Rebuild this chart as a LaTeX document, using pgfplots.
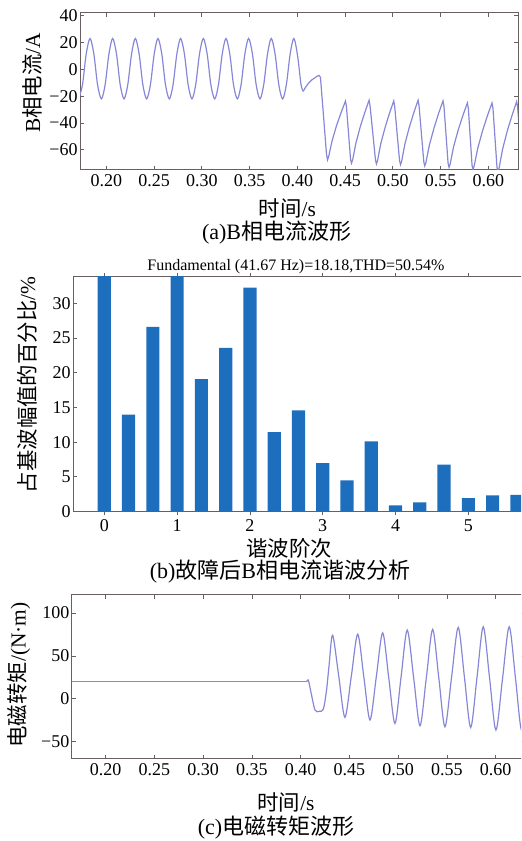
\documentclass[border=0pt]{standalone}
\usepackage{fontspec}
\setmainfont{Liberation Serif}
\newfontfamily\cjk{Noto Sans CJK SC}
\usepackage{pgfplots}
\pgfplotsset{compat=1.18}
\definecolor{wave}{RGB}{135,135,215}
\definecolor{axc}{RGB}{105,95,95}
\definecolor{barc}{RGB}{30,110,190}
\pgfplotsset{myax/.style={scale only axis, anchor=south west,
  axis line style={axc, line width=0.5pt},
  every tick/.style={axc, line width=0.4pt}, major tick length=2pt,
  tick label style={font=\fontsize{9}{10}\selectfont},
  /pgf/number format/assume math mode=true,
  yticklabel style={inner sep=1pt}, xticklabel style={inner sep=2pt}}}
\begin{document}
\begin{tikzpicture}
\useasboundingbox (0pt,0pt) rectangle (260.5pt,420.5pt);
\clip (0pt,0pt) rectangle (260.5pt,420.5pt);
% ---------------- (a)
\begin{axis}[myax, at={(40pt,335.5pt)}, width=219pt, height=78.5pt,
  xmin=0.1725, xmax=0.631, ymin=-75, ymax=42,
  xtick={0.2,0.25,0.3,0.35,0.4,0.45,0.5,0.55,0.6},
  xticklabels={0.20,0.25,0.30,0.35,0.40,0.45,0.50,0.55,0.60},
  ytick={-60,-40,-20,0,20,40}, yticklabels={−60,−40,−20,0,20,40}]
\addplot[wave, line width=0.6pt, smooth] coordinates {
(0.1711,-22) (0.1751,-11.5) (0.1790,11.5)
(0.1830,23) (0.1870,11.5) (0.1909,-11.5) (0.1949,-22) (0.1988,-11.5) (0.2028,11.5)
(0.2067,23) (0.2107,11.5) (0.2146,-11.5) (0.2186,-22) (0.2225,-11.5) (0.2265,11.5)
(0.2304,23) (0.2344,11.5) (0.2383,-11.5) (0.2423,-22) (0.2462,-11.5) (0.2502,11.5)
(0.2541,23) (0.2581,11.5) (0.2620,-11.5) (0.2660,-22) (0.2699,-11.5) (0.2739,11.5)
(0.2778,23) (0.2818,11.5) (0.2857,-11.5) (0.2897,-22) (0.2936,-11.5) (0.2976,11.5)
(0.3016,23) (0.3056,11.5) (0.3095,-11.5) (0.3135,-22) (0.3174,-11.5) (0.3214,11.5)
(0.3253,23) (0.3293,11.5) (0.3332,-11.5) (0.3372,-22) (0.3411,-11.5) (0.3451,11.5)
(0.3490,23) (0.3530,11.5) (0.3569,-11.5) (0.3609,-22) (0.3648,-11.5) (0.3688,11.5)
(0.3727,23) (0.3767,11.5) (0.3806,-11.5) (0.3846,-22) (0.3885,-11.5) (0.3925,11.5)
(0.3964,23) (0.4003,10) (0.4038,-11) (0.4061,-16.4)};
\addplot[wave, line width=0.6pt] coordinates {
(0.4061,-16.4) (0.4085,-13.5) (0.4115,-10.5) (0.4149,-8) (0.4180,-6.5) (0.4210,-5) (0.4228,-4.5) (0.4242,-6) (0.4280,-40) (0.4305,-63) (0.4316,-67.5)
(0.4328,-65) (0.4363,-53.5) (0.4410,-42) (0.4457,-32.4) (0.4504,-23.6)
(0.4514,-27.6) (0.4557,-67) (0.4567,-70)
(0.4579,-67.5) (0.4613,-55) (0.4659,-42.7) (0.4705,-32.4) (0.4751,-23)
(0.4761,-27) (0.4818,-67.5) (0.4828,-70.5)
(0.4840,-68) (0.4873,-55.5) (0.4919,-43.2) (0.4964,-32.9) (0.5009,-23.5)
(0.5019,-27.5) (0.5070,-68) (0.5080,-71)
(0.5092,-68.5) (0.5126,-55.6) (0.5172,-43.2) (0.5218,-32.6) (0.5264,-23)
(0.5274,-27) (0.5324,-69) (0.5334,-72)
(0.5346,-69.5) (0.5382,-56.5) (0.5430,-43.9) (0.5477,-33.2) (0.5525,-23.5)
(0.5535,-27.5) (0.5578,-70) (0.5588,-73)
(0.5600,-70.5) (0.5636,-57.6) (0.5684,-45.2) (0.5732,-34.6) (0.5780,-25)
(0.5790,-29) (0.5829,-71.5) (0.5839,-74.5)
(0.5851,-72) (0.5889,-58.7) (0.5939,-45.8) (0.5988,-34.9) (0.6038,-25)
(0.6048,-29) (0.6090,-73) (0.6100,-76)
(0.6112,-73.5) (0.6149,-59.4) (0.6198,-45.8) (0.6247,-34.4) (0.6296,-24)
(0.6306,-28) (0.6350,-70)};
\end{axis}
% ---------------- (b)
\begin{axis}[myax, at={(36.5pt,164.75pt)}, width=226.8pt, height=117.4pt,
  xmin=-0.43, xmax=5.8, ymin=0, ymax=33.85,
  xtick={0,1,2,3,4,5}, ytick={0,5,10,15,20,25,30},
  ybar, bar width=6.6pt]
\addplot[fill=barc, draw=none] coordinates {
(0,100) (0.3333,13.96) (0.6667,26.6) (1,100) (1.3333,19.07) (1.6667,23.6)
(2,32.26) (2.3333,11.46) (2.6667,14.59) (3,6.98) (3.3333,4.48) (3.6667,10.1)
(4,0.87) (4.3333,1.3) (4.6667,6.74) (5,1.93) (5.3333,2.31) (5.6667,2.4)};
\end{axis}
% ---------------- (c)
\begin{axis}[myax, at={(35.85pt,41pt)}, width=226.6pt, height=82pt,
  xmin=0.1651, xmax=0.63, ymin=-70, ymax=121,
  xtick={0.2,0.25,0.3,0.35,0.4,0.45,0.5,0.55,0.6},
  xticklabels={0.20,0.25,0.30,0.35,0.40,0.45,0.50,0.55,0.60},
  ytick={-50,0,50,100}, yticklabels={−50,0,50,100}]
\addplot[wave, line width=0.6pt] coordinates {(0.16,20) (0.4062,20)};
\addplot[wave, line width=0.6pt, smooth] coordinates {
(0.4062,20) (0.4078,22) (0.4105,8) (0.4147,-13) (0.4190,-14.5) (0.4232,-12)
(0.4265,10) (0.4292,40) (0.4328,74.2) (0.4391,26) (0.4454,-21.5) (0.4520,27)
(0.4585,75.4) (0.4648,25.4) (0.4711,-24.6) (0.4776,26) (0.4841,76.9) (0.4904,24)
(0.4967,-28.6) (0.5030,25.8) (0.5093,80.1) (0.5159,24.4) (0.5224,-31.3) (0.5289,24.8)
(0.5354,80.9) (0.5417,24.2) (0.5480,-32.5) (0.5548,25.4) (0.5616,83.2) (0.5680,25)
(0.5744,-33.3) (0.5809,25.4) (0.5873,84) (0.5938,23.9) (0.6003,-36.3) (0.6071,24)
(0.6139,84) (0.6204,23.5) (0.6268,-37) (0.6330,24)};
\end{axis}
% ---------------- texts
\node[rotate=90, font=\fontsize{10.7}{12}\selectfont] at (16pt,379pt) {B{\cjk 相电流}/A};
\node[font=\fontsize{10.7}{12}\selectfont] at (143.7pt,316.5pt) {{\cjk 时间}/s};
\node[font=\fontsize{11}{13}\selectfont] at (138.3pt,304pt) {(a)B{\cjk 相电流波形}};
\node[font=\fontsize{8}{9}\selectfont] at (148pt,287pt) {Fundamental (41.67 Hz)=18.18,THD=50.54\%};
\node[rotate=90, font=\fontsize{10.7}{12}\selectfont] at (13.5pt,228pt) {{\cjk 占基波幅值的百分比}/\%};
\node[font=\fontsize{10.7}{12}\selectfont] at (144.5pt,146.5pt) {{\cjk 谐波阶次}};
\node[font=\fontsize{11}{13}\selectfont] at (140pt,134.5pt) {(b){\cjk 故障后}B{\cjk 相电流谐波分析}};
\node[rotate=90, font=\fontsize{10.7}{12}\selectfont] at (9.5pt,83pt) {{\cjk 电磁转矩}/(N·m)};
\node[font=\fontsize{10.7}{12}\selectfont] at (143pt,19.5pt) {{\cjk 时间}/s};
\node[font=\fontsize{11}{13}\selectfont] at (138pt,6.5pt) {(c){\cjk 电磁转矩波形}};
\end{tikzpicture}
\end{document}
